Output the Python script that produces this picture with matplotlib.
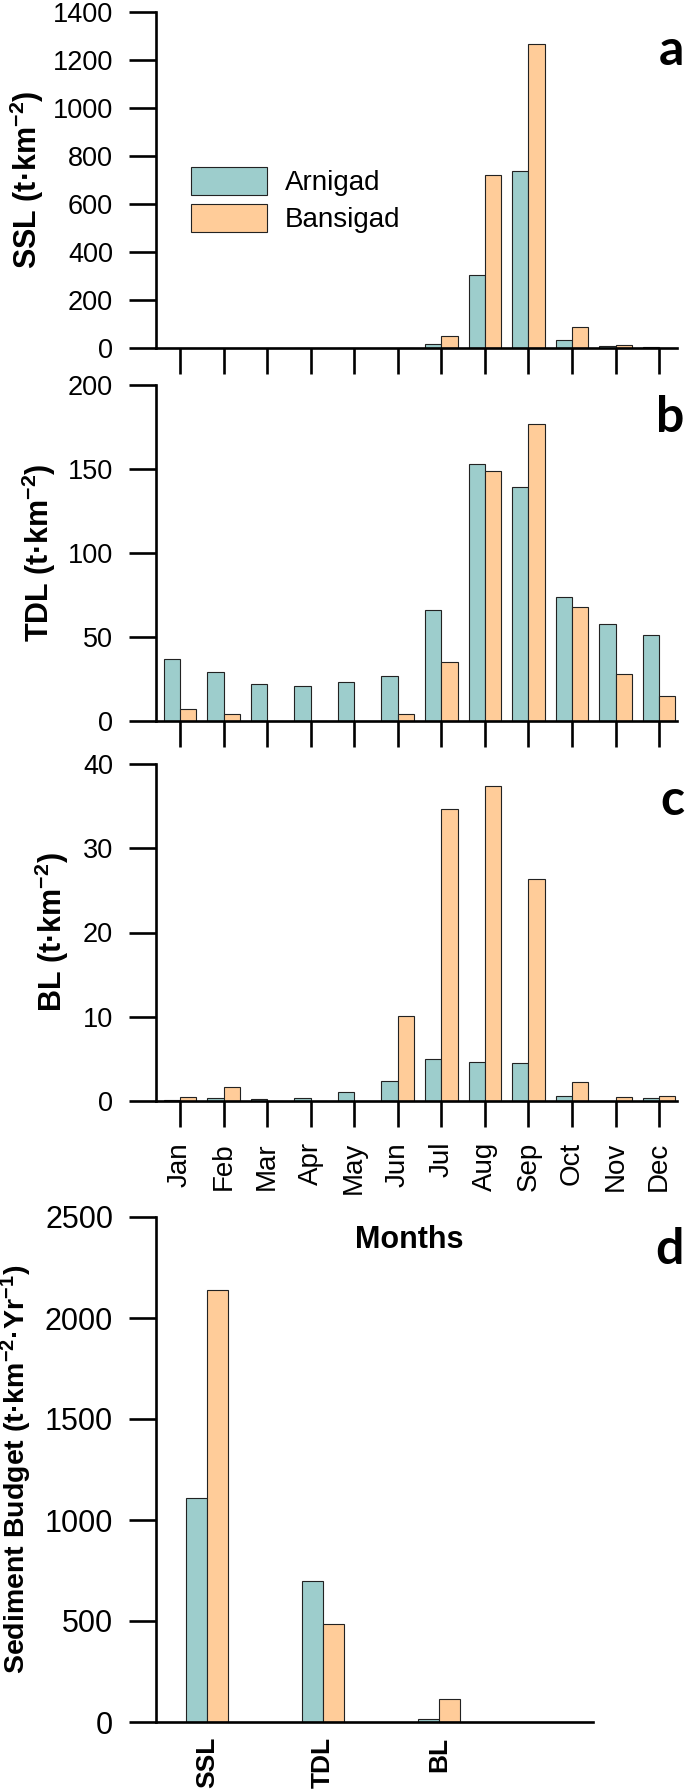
import numpy as np
import matplotlib
matplotlib.use("Agg")
import matplotlib.pyplot as plt

# data
months = ['Jan', 'Feb', 'Mar', 'Apr', 'May', 'Jun', 'Jul', 'Aug', 'Sep', 'Oct', 'Nov', 'Dec']
ssl_arnigad = [0.5, 0.5, 0.5, 0.5, 0.5, 0.5, 17, 304, 738, 32, 8, 3]
ssl_bansigad = [0.5, 0.5, 0.5, 0.5, 0.5, 0.5, 51, 722, 1265, 86, 11, 2]
tdl_arnigad = [37, 29, 22, 21, 23, 27, 66, 153, 139, 74, 58, 51]
tdl_bansigad = [7, 4, 0, 0, 0, 4, 35, 149, 177, 68, 28, 15]
bl_arnigad = [0.1, 0.3, 0.2, 0.4, 1.1, 2.4, 5.0, 4.6, 4.5, 0.6, 0.05, 0.4]
bl_bansigad = [0.5, 1.7, 0.05, 0.0, 0.0, 10.1, 34.7, 37.4, 26.4, 2.2, 0.5, 0.6]
budget_cats = ['SSL', 'TDL', 'BL']
budget_arnigad = [1110, 696, 17]
budget_bansigad = [2141, 486, 112]

c_arn = '#9DCDCC'
c_ban = '#FFCC99'
edge = '#222222'

plt.rcParams['font.family'] = ['Liberation Sans', 'DejaVu Sans']
plt.rcParams['mathtext.fontset'] = 'custom'
plt.rcParams['mathtext.rm'] = 'Liberation Sans'
plt.rcParams['mathtext.default'] = 'regular'

W, H = 685, 1791
fig = plt.figure(figsize=(W/100, H/100), dpi=100)

def px_axes(l, r, t, b):
    return fig.add_axes([l/W, 1 - b/H, (r - l)/W, (b - t)/H])

x = np.arange(len(months))
bw = 0.374

panels = [
    # top px, bottom px, ymax, yticks, label, letter, letter baseline, label right px
    (11.7, 348, 1400, np.arange(0, 1401, 200), 'SSL (t·km$^{-2}$)', 'a', 65, 46, ssl_arnigad, ssl_bansigad),
    (385, 721, 200, np.arange(0, 201, 50), 'TDL (t·km$^{-2}$)', 'b', 432, 58, tdl_arnigad, tdl_bansigad),
    (764, 1101, 40, np.arange(0, 41, 10), 'BL (t·km$^{-2}$)', 'c', 815, 71, bl_arnigad, bl_bansigad),
]

for i, (top, bot, ymax, yt, lab, letter, lb, lr, arn, ban) in enumerate(panels):
    ax = px_axes(156, 677, top, bot)
    ax.bar(x - bw/2, arn, bw, color=c_arn, edgecolor=edge, linewidth=0.8, label='Arnigad')
    ax.bar(x + bw/2, ban, bw, color=c_ban, edgecolor=edge, linewidth=0.8, label='Bansigad')
    ax.set_xlim(-0.551, 11.412)
    ax.set_ylim(0, ymax)
    ax.set_yticks(yt)
    ax.set_xticks(x)
    if i == 2:
        ax.set_xticklabels(months, rotation=90, fontsize=20)
    else:
        ax.set_xticklabels([])
    for s in ['top', 'right']:
        ax.spines[s].set_visible(False)
    ax.spines['left'].set_linewidth(1.9)
    ax.spines['bottom'].set_linewidth(1.9)
    ax.tick_params(axis='y', length=19.4, width=1.9, pad=11.5, labelsize=19.5)
    ax.tick_params(axis='x', length=18.7, width=1.9, pad=10.8)
    ax.set_ylabel(lab, fontsize=22, fontweight='bold')
    ax.yaxis.set_label_coords((lr - 156)/(677 - 156), 0.5)
    fig.text(684/W, 1 - lb/H, letter, fontsize=36, fontweight='bold', family='Lato',
             ha='right', va='baseline')
    if i == 0:
        ax.legend(loc='upper left', bbox_to_anchor=(191/W, 1 - 167/H), bbox_transform=fig.transFigure,
                  frameon=False, fontsize=20, handlelength=2.73, handleheight=1.15,
                  labelspacing=0.29, handletextpad=0.65, borderpad=0, borderaxespad=0)

# annual budget panel
ax = px_axes(156, 593, 1217, 1722)
xc = np.arange(len(budget_cats))
bw2 = 0.181
ax.bar(xc - bw2/2, budget_arnigad, bw2, color=c_arn, edgecolor=edge, linewidth=0.8)
ax.bar(xc + bw2/2, budget_bansigad, bw2, color=c_ban, edgecolor=edge, linewidth=0.8)
ax.set_xlim(-0.44, 3.328)
ax.set_ylim(0, 2500)
ax.set_yticks(np.arange(0, 2501, 500))
ax.set_xticks(xc)
ax.set_xticklabels(budget_cats, rotation=90, fontsize=19, fontweight='bold')
for s in ['top', 'right']:
    ax.spines[s].set_visible(False)
ax.spines['left'].set_linewidth(1.9)
ax.spines['bottom'].set_linewidth(1.9)
ax.tick_params(axis='y', length=19.4, width=1.9, pad=11.5, labelsize=22)
ax.tick_params(axis='x', length=0, pad=10.8)
ax.set_ylabel('Sediment Budget (t·km$^{-2}$·Yr$^{-1}$)', fontsize=20.5, fontweight='bold')
ax.yaxis.set_label_coords((34 - 156)/(593 - 156), 0.5)

fig.text(409/W, 1 - 1240/H, 'Months', fontsize=22, fontweight='bold', ha='center', va='center')
fig.text(684/W, 1 - 1264/H, 'd', fontsize=36, fontweight='bold', family='Lato', ha='right', va='baseline')

fig.savefig('out.png', dpi=100)
